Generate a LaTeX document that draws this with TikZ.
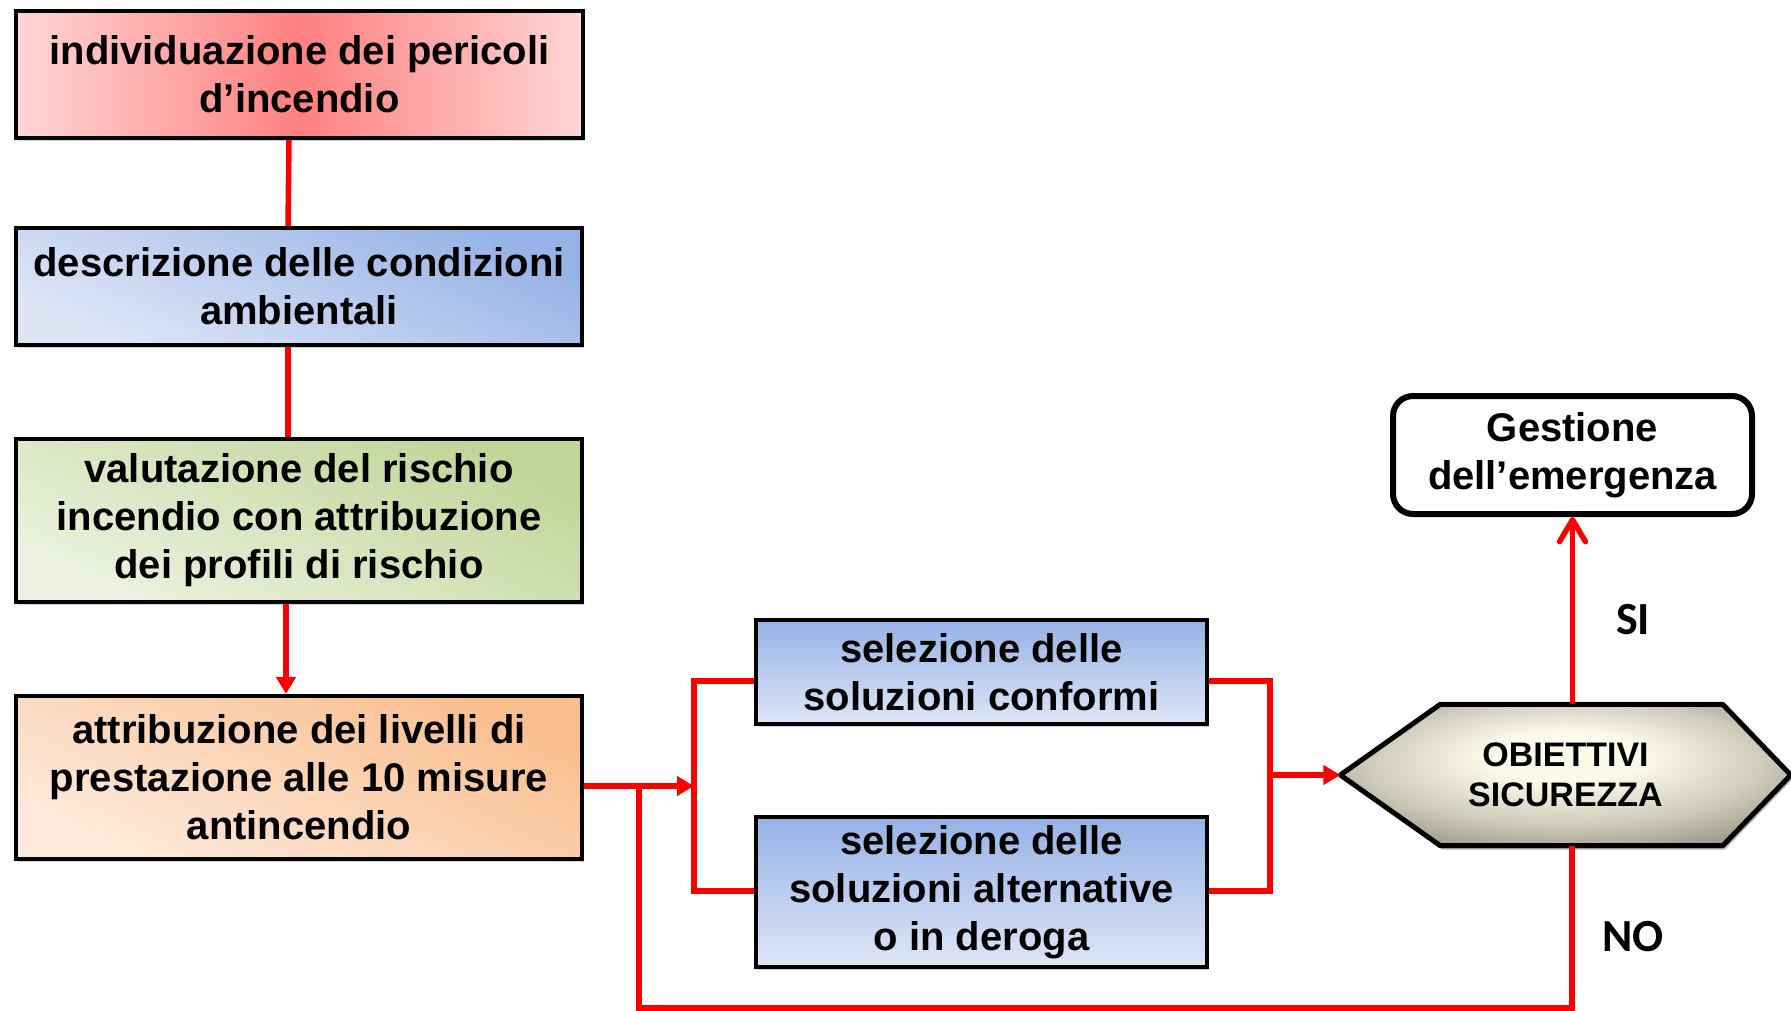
\documentclass[tikz,border=0pt]{standalone}
\usepackage{fontspec}
\setmainfont{Liberation Sans}
\newfontfamily\labfont{Carlito}
\usetikzlibrary{arrows.meta,shadows,backgrounds,calc}
\definecolor{redL}{RGB}{255,214,214}
\definecolor{redD}{RGB}{255,128,128}
\definecolor{blueD}{RGB}{150,178,230}
\definecolor{blueL}{RGB}{222,230,246}
\definecolor{greenD}{RGB}{192,213,152}
\definecolor{greenL}{RGB}{236,242,223}
\definecolor{orD}{RGB}{249,190,142}
\definecolor{orL}{RGB}{253,234,220}
\definecolor{hexL}{RGB}{251,249,232}
\definecolor{hexM}{RGB}{206,203,186}
\definecolor{hexD}{RGB}{134,131,114}
\definecolor{lred}{RGB}{255,0,0}
\pgfdeclareradialshading{hexshade}{\pgfpoint{0bp}{8bp}}{%
  color(0bp)=(hexL); color(9bp)=(hexL); color(22bp)=(hexM); color(36bp)=(hexD); color(50bp)=(hexD)}
\begin{document}
\begin{tikzpicture}[x=1pt,y=-1pt,
  box/.style={draw=black, line width=4pt, align=center, inner sep=0pt,
    font=\fontsize{40}{48}\selectfont\bfseries,
    drop shadow={shadow xshift=2pt,shadow yshift=-3pt,opacity=0.35}},
  redline/.style={draw=lred, line width=5.5pt},
  tri/.style={-{Triangle[length=17pt,width=19pt]}},
  barb/.style={-{Straight Barb[length=22pt,width=26pt,round]}},
  lab/.style={font=\labfont\fontsize{46}{50}\selectfont\bfseries}]
\useasboundingbox (0,0) rectangle (1791,1011);

\node[box, minimum width=567pt, minimum height=127pt,
  left color=redL, right color=redL, middle color=redD] (b1) at (299.5,74.5)
  {individuazione dei pericoli\\d’incendio};
\node[box, minimum width=566pt, minimum height=117pt,
  top color=blueD, bottom color=blueL, shading angle=-25] (b2) at (299,286.5)
  {descrizione delle condizioni\\ambientali};
\node[box, minimum width=566pt, minimum height=163pt,
  top color=greenD, bottom color=greenL, shading angle=-25] (b3) at (299,520.5)
  {valutazione del rischio\\incendio con attribuzione\\dei profili di rischio};
\node[box, minimum width=566pt, minimum height=163pt,
  top color=orD, bottom color=orL, shading angle=-25] (b4) at (299,777.5)
  {attribuzione dei livelli di\\prestazione alle 10 misure\\antincendio};
\node[box, minimum width=451pt, minimum height=104pt,
  top color=blueD, bottom color=blueL] (b5) at (981.5,672)
  {selezione delle\\soluzioni conformi};
\node[box, minimum width=451pt, minimum height=150pt,
  top color=blueD, bottom color=blueL] (b6) at (981.5,892)
  {selezione delle\\soluzioni alternative\\o in deroga};
\node[draw=black, line width=6pt, rounded corners=20pt, fill=white,
  minimum width=359pt, minimum height=118pt, align=center, inner sep=0pt,
  font=\fontsize{40}{48}\selectfont\bfseries] (gest) at (1572.5,455)
  {Gestione\\dell’emergenza};
\node[minimum width=450pt, minimum height=141pt, inner sep=0pt, align=center,
  font=\fontsize{34}{40}\selectfont\bfseries] (hex) at (1565.5,775)
  {OBIETTIVI\\SICUREZZA};
\begin{pgfonlayer}{background}
\path[draw=black, line width=5pt, line join=round, shading=hexshade,
  drop shadow={shadow xshift=2pt,shadow yshift=-4pt,opacity=0.6}]
  (hex.west) -- ([xshift=100pt]hex.north west) -- ([xshift=-68pt]hex.north east)
  -- (hex.east) -- ([xshift=-68pt]hex.south east) -- ([xshift=100pt]hex.south west) -- cycle;
\end{pgfonlayer}

\node[lab] (si) at (1633,620) {SI};
\node[lab] (no) at (1633,937) {NO};

% vertical chain
\draw[redline] ([xshift=-10.5pt]b1.south) -- ([xshift=-11pt]b2.north);
\draw[redline] ([xshift=-11pt]b2.south) -- ([xshift=-11pt]b3.north);
\draw[redline, tri] ([xshift=-13pt]b3.south) -- ([xshift=-13pt]b4.north);

% branch to selections
\coordinate (jA) at (694,786);
\coordinate (jB) at (639,786);
\coordinate (lT) at (694,681);
\coordinate (lB) at (694,891);
\coordinate (rT) at (1270,681);
\coordinate (rB) at (1270,891);
\coordinate (rM) at (1270,775);
\coordinate (fb) at (1572,1008);
\draw[redline, tri] (b4.east |- jA) -- (jA);
\draw[redline] (b5.west |- lT) -- (lT) -- (lB) -- (b6.west |- lB);
\draw[redline] (b5.east |- rT) -- (rT) -- (rB) -- (b6.east |- rB);
\draw[redline, tri] (rM) -- (hex.west);
\draw[redline, barb] (gest.south |- hex.north) -- (gest.south);
\draw[redline] (fb |- hex.south) -- (fb) -- (jB |- fb) -- (jB);
\end{tikzpicture}
\end{document}
